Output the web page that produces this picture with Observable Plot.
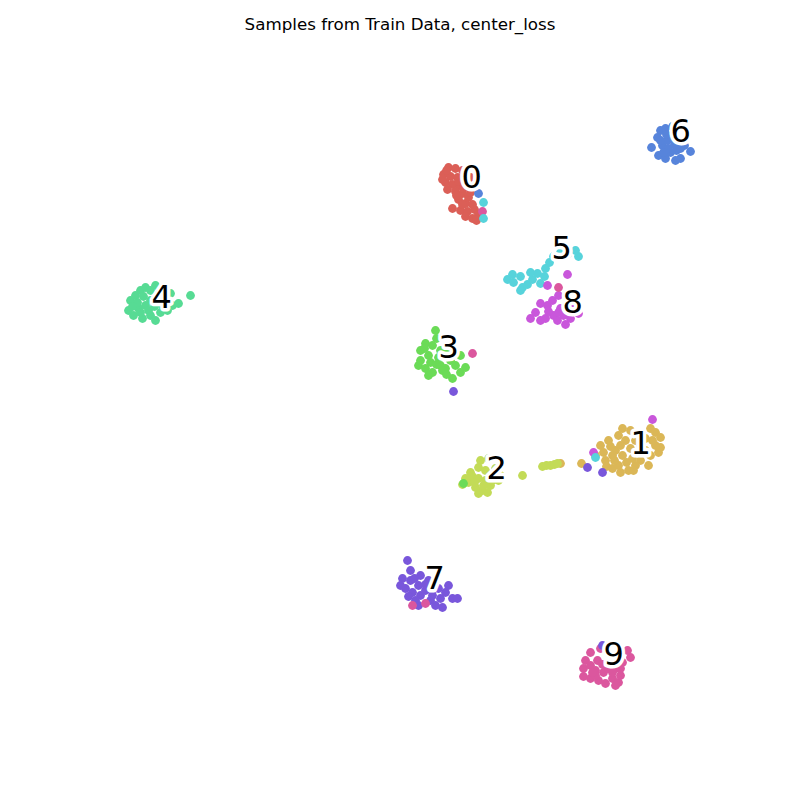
<!DOCTYPE html>
<html>
<head>
<meta charset="utf-8">
<script src="https://cdn.jsdelivr.net/npm/d3@7"></script>
<script src="https://cdn.jsdelivr.net/npm/@observablehq/plot@0.6"></script>
<style>
  body { margin: 0; background: #fff; }
  #title { height: 40px; position: relative; }
  #title div { position: absolute; top: 14px; width: 800px; text-align: center;
    font: 16.7px "DejaVu Sans", sans-serif; line-height: 20px; color: #000; }
</style>
</head>
<body>
<div id="title"><div>Samples from Train Data, center_loss</div></div>
<div id="chart"></div>
<script>
// embedding coordinates (arbitrary units; y grows downward)
const digits = [0, 1, 2, 3, 4, 5, 6, 7, 8, 9];
const palette = ["#db5f57", "#dbb757", "#c3db57", "#6bdb57", "#57db94",
                 "#57d3db", "#5784db", "#7957db", "#c957db", "#db579e"];
// label anchor (start of text, baseline) per digit
const labelX = [461, 630, 486, 438, 151, 551, 670, 424, 562, 603];
const labelY = [187, 453, 478, 357, 307, 258, 141, 588, 312, 664];

const cluster0 = [[448,167],[455,168],[462,170],[443,174],[450,176],[457,177],[445,182],[452,184],[459,185],[466,180],[470,177],
  [447,189],[455,191],[462,193],[468,197],[458,199],[465,203],[472,204],[452,208],[460,210],[467,211],[474,209],[478,214],[465,216],
  [472,218],[476,220],[470,192],[442,179],[446,170],[458,181],[463,188],[456,195],[462,204]];
const cluster1 = [[622,428],[630,430],[650,428],[655,432],[660,437],[655,445],[658,452],[650,455],[645,450],[640,460],[635,465],[628,470],
  [620,472],[612,468],[605,460],[600,445],[608,440],[615,450],[622,455],[630,448],[625,440],[618,435],[635,440],[640,445],[645,438],
  [612,455],[618,465],[632,458],[603,452],[660,447],[648,465],[595,455],[581,463],[560,463],[610,446],[626,462],[638,452],[652,440],
  [620,445],[614,460],[633,470],[606,466]];
const cluster2 = [[480,460],[488,458],[478,467],[470,472],[485,470],[492,475],[498,480],[490,485],[482,490],[475,487],[468,482],
  [478,493],[485,480],[495,468],[472,476],[465,478],[500,475],[487,492],[478,478],[462,484],[522,475],[542,466],[546,465],[550,465],
  [554,464],[557,463],[483,485],[492,480],[474,482]];
const cluster3 = [[435,330],[425,343],[432,345],[420,350],[428,355],[438,357],[418,365],[425,368],[432,372],[440,365],[445,368],
  [450,360],[455,365],[460,355],[448,350],[442,370],[452,378],[460,372],[465,367],[440,350],[428,375],[420,360],[436,338],
  [430,362],[436,364],[424,348],[446,374]];
const cluster4 = [[130,300],[135,295],[140,290],[145,287],[150,290],[155,285],[160,290],[157,298],[150,300],[145,305],[138,308],
  [133,315],[142,318],[150,315],[155,320],[160,312],[167,310],[172,305],[178,303],[165,300],[170,293],[148,310],[128,310],[137,302],
  [190,295],[143,296],[154,306],[162,305],[140,312],[132,306]];
const cluster5 = [[507,279],[513,282],[520,276],[522,287],[527,284],[532,279],[537,273],[540,283],[544,276],[545,268],[549,262],
  [553,256],[560,252],[567,254],[575,250],[578,256],[520,290],[530,272],[512,274]];
const cluster6 = [[660,130],[665,128],[657,137],[651,147],[662,145],[667,140],[672,138],[658,155],[665,158],[670,152],[676,150],
  [680,158],[684,145],[690,151],[675,160],[668,148],[680,148],[663,152],[672,126],[660,140],[674,144],[666,134]];
const cluster7 = [[407,560],[402,578],[410,580],[405,588],[412,592],[418,585],[420,595],[425,590],[430,600],[435,605],[440,598],
  [445,592],[448,585],[452,598],[457,598],[438,588],[428,580],[415,600],[420,575],[400,585],[442,607],[432,595],[410,570],[418,605],
  [414,578],[425,584],[408,596],[434,588]];
const cluster8 = [[540,303],[547,305],[535,312],[530,318],[545,318],[553,315],[557,320],[565,324],[560,308],[568,300],[572,295],
  [578,313],[575,305],[552,300],[563,315],[570,318],[540,320],[558,295],[548,311],[558,312],[565,308]];
const cluster9 = [[590,652],[585,660],[583,668],[590,665],[597,660],[595,670],[590,678],[583,676],[598,680],[605,683],[612,678],
  [618,682],[620,675],[615,668],[622,662],[630,657],[627,650],[610,660],[603,672],[608,668],[600,648],[595,675],[615,685],
  [602,664],[612,672],[620,668],[592,672]];
// points that sit inside another digit's cluster: [x, y, digit]
const strays = [[478,193,6],[483,202,5],[482,211,9],[483,218,5],[558,287,9],[567,274,8],[547,285,8],
  [472,353,9],[453,391,7],[652,419,8],[593,452,8],[595,457,5],[587,467,7],[602,472,7],[463,483,3],
  [412,605,9],[425,603,9],[602,645,7]];

const clusters = [cluster0, cluster1, cluster2, cluster3, cluster4, cluster5, cluster6, cluster7, cluster8, cluster9];
const points = clusters.flatMap((c, d) => c.map(([x, y]) => ({x, y, digit: d})))
  .concat(strays.map(([x, y, d]) => ({x, y, digit: d})));
const labels = digits.map((d, i) => ({digit: d, x: labelX[i], y: labelY[i]}));

const chart = Plot.plot({
  width: 800, height: 760,
  margin: 0,
  x: {domain: [0, 800], range: [0, 800], axis: null},
  y: {domain: [800, 40], axis: null},
  color: {domain: digits, range: palette},
  marks: [
    Plot.dot(points, {x: "x", y: "y", fill: "digit", r: 4.4, stroke: null}),
    Plot.text(labels, {x: "x", y: "y", text: d => String(d.digit), textAnchor: "start", lineAnchor: "bottom",
      fontSize: 32, fontFamily: "DejaVu Sans", fill: "black", stroke: "white", strokeWidth: 7, paintOrder: "stroke"})
  ]
});
document.getElementById("chart").appendChild(chart);
</script>
</body>
</html>
